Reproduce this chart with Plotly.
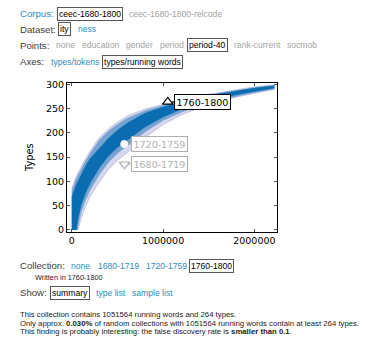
import plotly.graph_objects as go

# ---------------- data ----------------
running_words = [0, 20000, 50000, 60000, 70000, 100000, 150000, 200000, 300000, 400000,
                 500000, 600000, 800000, 1000000, 1200000, 1400000, 1600000, 1800000,
                 2000000, 2220000]
upper_outer = [84, 96, 110, 114, 118, 128, 146, 162, 190, 208, 222, 234, 249, 259, 268, 276, 283, 289, 295, 299]
upper_mid = [78, 90, 104, 108, 112, 122, 140, 156, 184, 203, 217, 229, 245, 256, 265, 273, 281, 287, 293, 298]
upper_inner = [66, 78, 92, 96, 100, 112, 130, 146, 168, 188, 205, 219, 240, 253, 263, 272, 280, 286, 292, 297]
lower_inner = [0, 0, 0, 14, 26, 50, 76, 96, 128, 152, 170, 184, 212, 233, 249, 261, 271, 279, 286, 293]
lower_mid = [0, 0, 0, 0, 12, 36, 62, 82, 114, 139, 158, 172, 202, 226, 243, 256, 267, 276, 284, 291]
lower_outer = [0, 0, 0, 0, 0, 22, 48, 68, 98, 124, 143, 158, 190, 217, 237, 252, 264, 274, 282, 290]

collections = ["1760-1800", "1720-1759", "1680-1719"]
coll_words = [1051564, 575000, 578000]
coll_types = [264, 177, 135]

y_ticks = [0, 50, 100, 150, 200, 250, 300]
x_ticks = [0, 1000000, 2000000]

# ---------------- layout geometry ----------------
W, H = 378, 341
L, R, T, B = 67, 277, 83, 232
PW, PH = R - L, B - T


def px(x, y):
    return (x - L) / PW, 1 - (y - T) / PH


BLUE = "#2f8ac2"
GREY = "#a3a3a3"
DARK = "#3c3c3c"
UI = "Liberation Sans, Arial, sans-serif"
MPL = "DejaVu Sans, sans-serif"

fig = go.Figure()

LAV = "#b9b9dc"
bands = [
    (lower_outer, upper_outer, "rgba(214,214,236,1)", LAV),
    (lower_mid, upper_mid, "#74a3d2", "#74a3d2"),
    (lower_inner, upper_inner, "#0a6db1", "#0a6db1"),
]
for lo, hi, fillc, linec in bands:
    fig.add_trace(go.Scatter(x=running_words, y=lo, mode="lines",
                             line=dict(color=linec, width=0.8), hoverinfo="skip"))
    fig.add_trace(go.Scatter(x=running_words, y=hi, mode="lines", fill="tonexty",
                             fillcolor=fillc, line=dict(color=linec, width=0.8),
                             hoverinfo="skip"))

# markers
fig.add_trace(go.Scatter(x=[coll_words[0]], y=[coll_types[0]], mode="markers",
                         marker=dict(symbol="triangle-up", size=9, color="white",
                                     line=dict(color="black", width=1.2))))
fig.add_trace(go.Scatter(x=[coll_words[1]], y=[coll_types[1]], mode="markers",
                         marker=dict(symbol="circle", size=7, color="white",
                                     line=dict(color="white", width=1))))
fig.add_trace(go.Scatter(x=[coll_words[2]], y=[coll_types[2]], mode="markers",
                         marker=dict(symbol="triangle-down", size=9, color="white",
                                     line=dict(color="#aaaaaa", width=1.2))))

annotations = []
label_styles = [("black", "black", 35), ("#b0b0b0", "#b0b0b0", 35), ("#b0b0b0", "#b0b0b0", 35)]
for name, xw, yt, (tc, bc, ax) in zip(collections, coll_words, coll_types, label_styles):
    annotations.append(dict(x=xw, y=yt, xref="x", yref="y", text=name, showarrow=True,
                            arrowhead=0, arrowwidth=1, arrowcolor=bc, ax=ax, ay=0,
                            standoff=4, font=dict(family=MPL, size=9.5, color=tc),
                            bgcolor="white", bordercolor=bc, borderwidth=1, borderpad=1.5))


def txt(x, y, s, color=DARK, size=9.6, box=False, family=UI):
    xp, yp = px(x, y)
    d = dict(x=xp, y=yp, xref="paper", yref="paper", text=s, showarrow=False,
             xanchor="left", yanchor="middle", font=dict(family=family, size=size, color=color))
    if box:
        d.update(bordercolor="#555555", borderwidth=1, borderpad=1)
    annotations.append(d)


OPT = 8.6
# Row 1
txt(18, 13.5, "Corpus:", BLUE)
txt(56.7, 13.5, "ceec-1680-1800", "black", OPT, True)
txt(126.5, 13.5, "ceec-1680-1800-relcode", GREY, OPT)
# Row 2
txt(18, 29.5, "Dataset:")
txt(58, 29.5, "ity", "black", OPT, True)
txt(76, 29.5, "ness", BLUE, OPT)
# Row 3
txt(18, 45.5, "Points:")
for xx, s in [(54, "none"), (80, "education"), (124.3, "gender"), (157.7, "period")]:
    txt(xx, 45.5, s, GREY, OPT)
txt(187.3, 45.5, "period-40", "black", OPT, True)
txt(232, 45.5, "rank-current", GREY, OPT)
txt(285, 45.5, "socmob", GREY, OPT)
# Row 4
txt(18, 61.5, "Axes:")
txt(49, 61.5, "types/tokens", BLUE, OPT)
txt(101.7, 61.5, "types/running words", "black", OPT, True)

# bottom controls
txt(18, 265.5, "Collection:")
txt(69, 265.5, "none", BLUE, OPT)
txt(96, 265.5, "1680-1719", BLUE, OPT)
txt(143.5, 265.5, "1720-1759", BLUE, OPT)
txt(189.3, 265.5, "1760-1800", "black", OPT, True)
txt(33.3, 277.3, "Written in 1760-1800", "#222222", 7.3)
txt(18, 292.5, "Show:")
txt(50, 292.5, "summary", "black", OPT, True)
txt(94, 292.5, "type list", BLUE, OPT)
txt(130, 292.5, "sample list", BLUE, OPT)

P = 7.75
txt(18, 314.5, "This collection contains 1051564 running words and 264 types.", "#222222", P)
txt(18, 323, "Only approx. <b>0.030%</b> of random collections with 1051564 running words contain at least 264 types.", "#222222", P)
txt(18, 331.5, "This finding is probably interesting: the false discovery rate is <b>smaller than 0.1</b>.", "#222222", P)

# y axis title
xp, yp = px(29, 158)
annotations.append(dict(x=xp, y=yp, xref="paper", yref="paper", text="Types", textangle=-90,
                        showarrow=False, xanchor="center", yanchor="middle",
                        font=dict(family=MPL, size=9.8, color="black")))

fig.update_layout(
    width=W, height=H, margin=dict(l=L, r=W - R, t=T, b=H - B),
    paper_bgcolor="white", plot_bgcolor="white", showlegend=False,
    annotations=annotations,
    xaxis=dict(range=[-52000, 2248000], tickvals=x_ticks, ticktext=[str(v) for v in x_ticks],
               showline=True, mirror="ticks", linecolor="black", linewidth=1,
               ticks="inside", ticklen=3, tickcolor="#555", showgrid=False, zeroline=False,
               tickfont=dict(family=MPL, size=9.5, color="black")),
    yaxis=dict(range=[-5, 303], tickvals=y_ticks, showline=True, mirror="ticks",
               linecolor="black", linewidth=1, ticks="inside", ticklen=3, tickcolor="#555",
               showgrid=False, zeroline=False,
               tickfont=dict(family=MPL, size=9.5, color="black")),
)

fig.write_html("out.html", config={"displayModeBar": False},
               post_script="document.body.style.margin='0';document.body.style.padding='0';")
